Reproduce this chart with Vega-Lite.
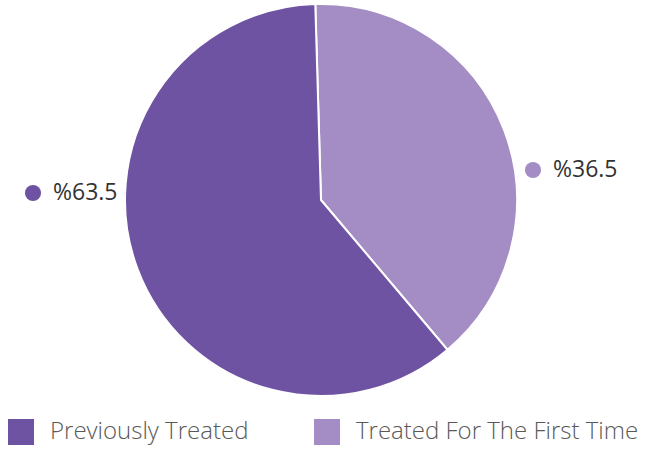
{
  "$schema": "https://vega.github.io/schema/vega-lite/v6.json",
  "width": 642,
  "height": 400,
  "autosize": "none",
  "padding": {"left": 0, "top": 0, "right": 3, "bottom": 52},
  "background": "white",
  "config": {"view": {"stroke": null}, "font": "Open Sans"},
  "data": {
    "values": [
      {"category": "Treated For The First Time", "value": 39.3, "label": "%36.5"},
      {"category": "Previously Treated", "value": 60.7, "label": "%63.5"}
    ]
  },
  "layer": [
    {
      "mark": {"type": "arc", "outerRadius": 196, "stroke": "white", "strokeWidth": 2},
      "encoding": {
        "theta": {"field": "value", "type": "quantitative", "stack": true, "scale": {"range": [-0.029, 6.254]}},
        "order": {"field": "value", "type": "quantitative", "sort": "ascending"},
        "color": {
          "field": "category",
          "type": "nominal",
          "scale": {"domain": ["Previously Treated", "Treated For The First Time"], "range": ["#6f53a3", "#a48dc4"]},
          "legend": {
            "title": null,
            "orient": "none",
            "legendX": 8,
            "legendY": 419,
            "direction": "horizontal",
            "symbolType": "square",
            "symbolSize": 676,
            "symbolStrokeWidth": 0,
            "symbolOpacity": 1,
            "labelFontSize": 24,
            "labelFont": "Open Sans",
            "labelFontWeight": 300,
            "labelColor": "#595959",
            "labelOffset": 16,
            "labelLimit": 400,
            "labelBaseline": "middle",
            "columnPadding": 65
          }
        }
      }
    },
    {
      "mark": {"type": "point", "filled": true, "size": 260, "opacity": 1},
      "encoding": {
        "x": {"field": "category", "type": "nominal", "axis": null, "scale": {"domain": ["Previously Treated", "Treated For The First Time"], "range": [33, 533], "padding": 0}},
        "y": {"field": "category", "type": "nominal", "axis": null, "scale": {"domain": ["Previously Treated", "Treated For The First Time"], "range": [193, 170], "padding": 0}},
        "color": {"field": "category", "type": "nominal"}
      }
    },
    {
      "mark": {"type": "text", "align": "left", "baseline": "middle", "dx": 20, "fontSize": 23, "font": "Open Sans", "color": "#333333"},
      "encoding": {
        "x": {"field": "category", "type": "nominal"},
        "y": {"field": "category", "type": "nominal"},
        "text": {"field": "label"}
      }
    }
  ]
}
